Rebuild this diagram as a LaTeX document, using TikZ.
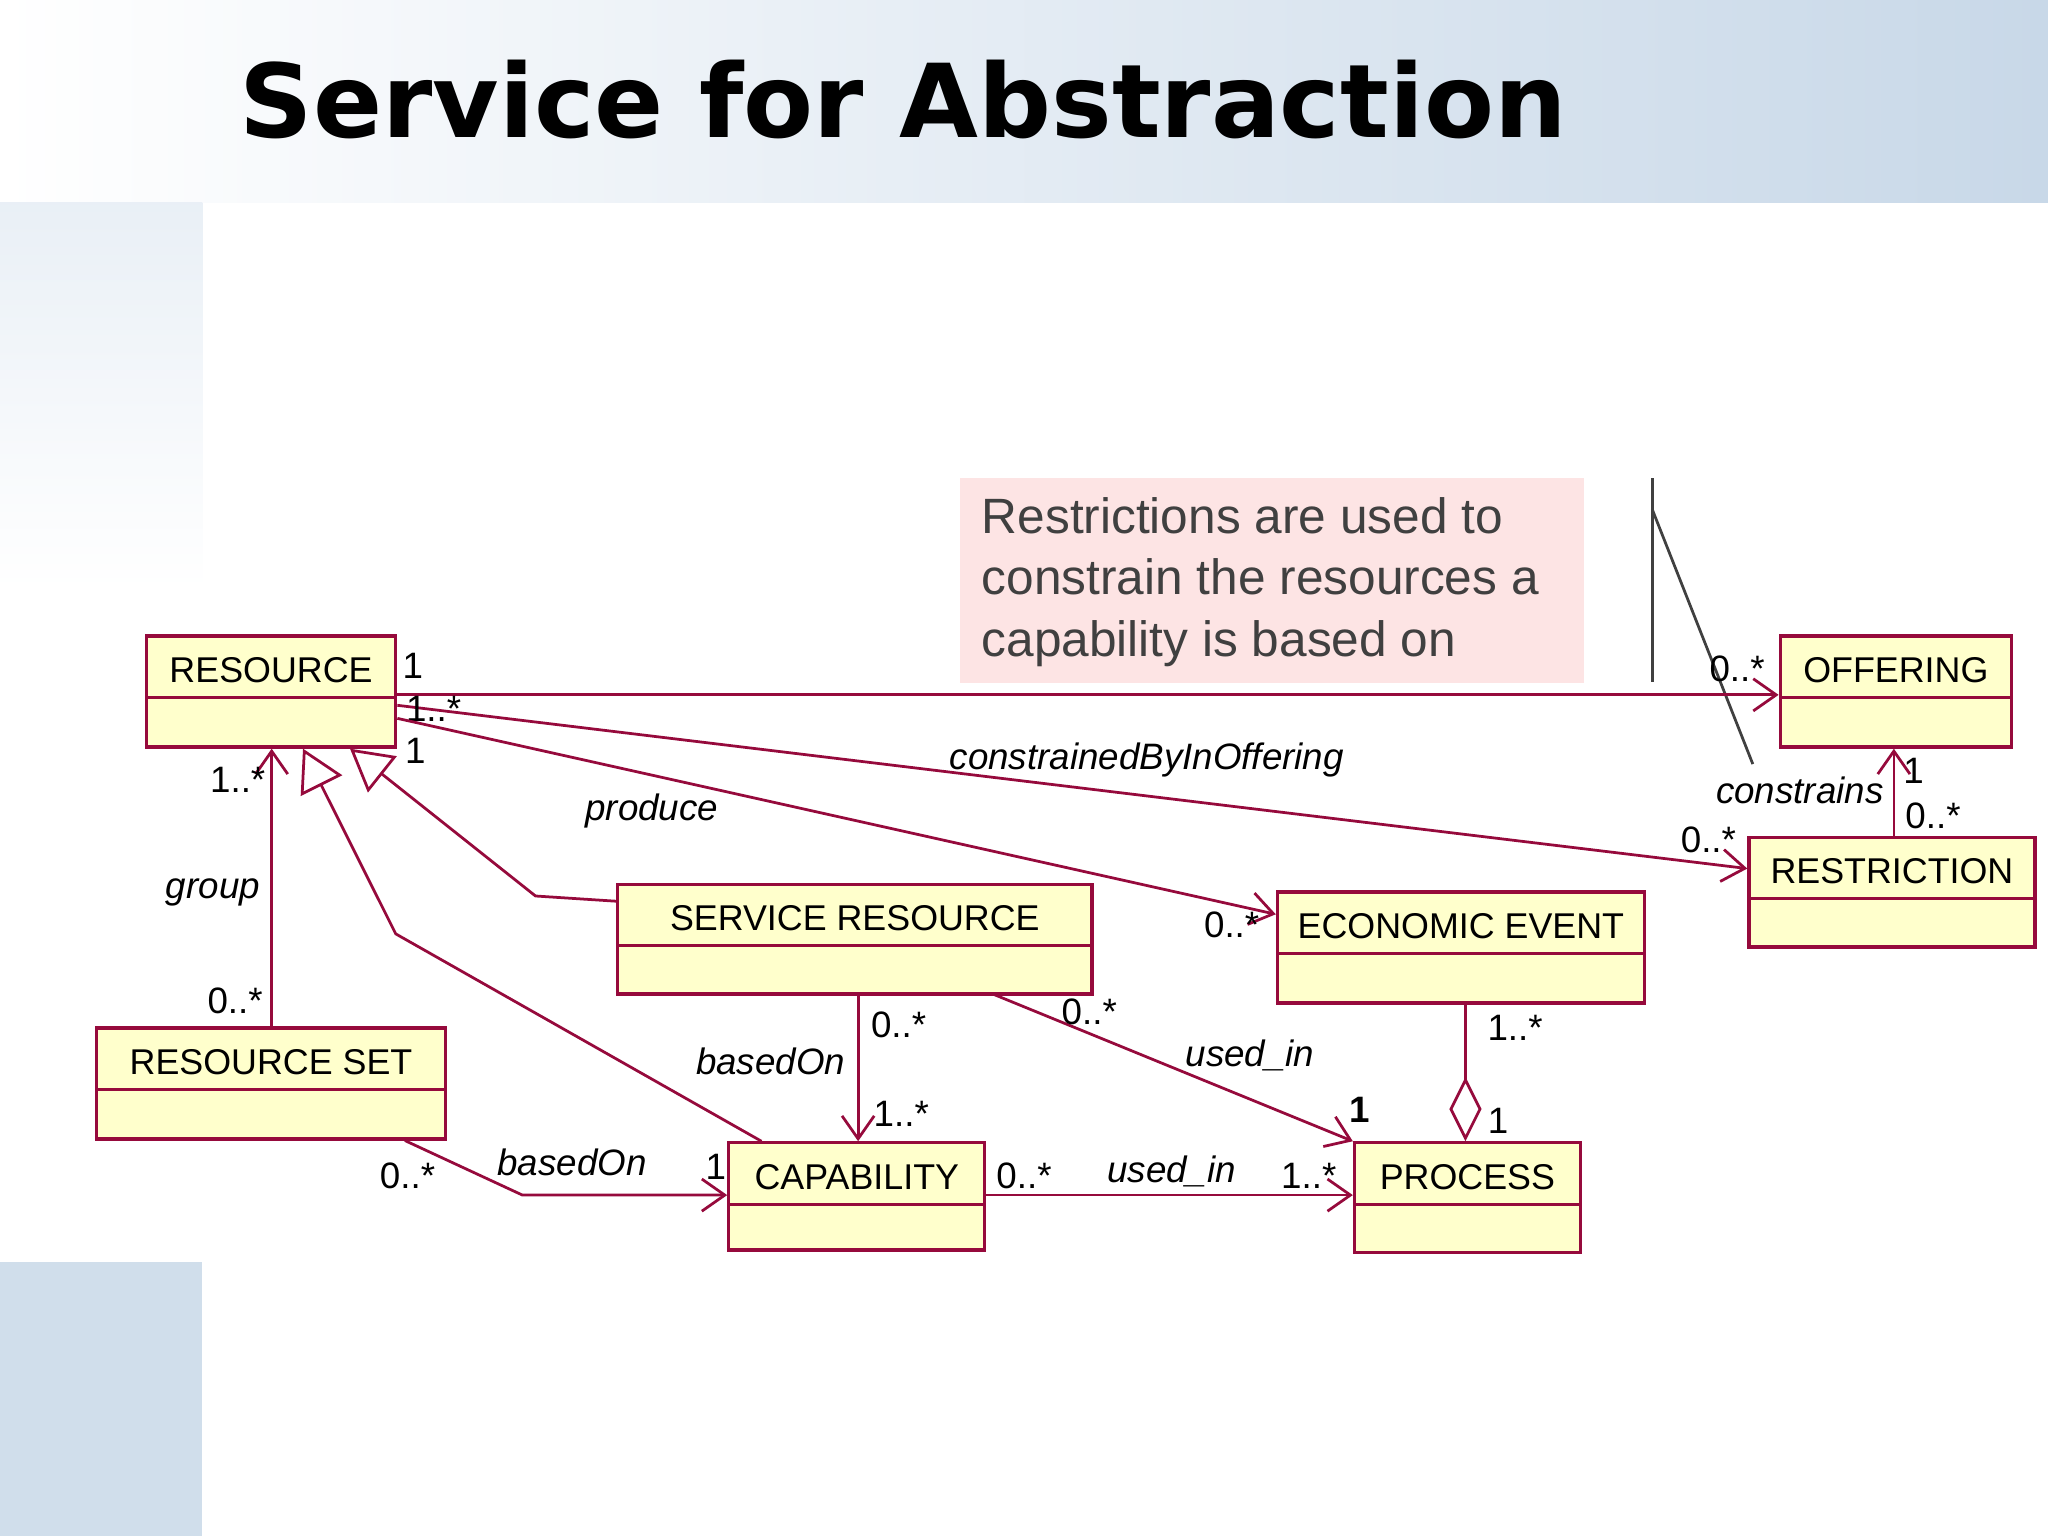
\documentclass[tikz,border=0pt]{standalone}
\usepackage{fontspec}
\setmainfont{Liberation Sans}
\newfontfamily\titlefont{DejaVu Sans}
\usetikzlibrary{arrows.meta,calc}
\definecolor{umlred}{RGB}{150,10,60}
\definecolor{umlfill}{RGB}{255,255,204}
\definecolor{notepink}{RGB}{253,228,228}
\definecolor{bandblue}{RGB}{200,216,232}
\begin{document}
\begin{tikzpicture}[x=0.01cm,y=-0.01cm,
  umlbox/.style={draw=umlred,fill=umlfill,line width=0.7pt,inner sep=0pt},
  conn/.style={draw=umlred,line width=0.6pt},
  opn/.style={-{Straight Barb[length=5pt,width=7pt]}},
  gen/.style={-{Triangle[open,length=9pt,width=10pt,fill=white]}},
  agg/.style={-{Diamond[open,length=14pt,width=7pt]}},
  lbl/.style={font=\fontsize{8}{10}\selectfont,inner sep=1pt},
  ilbl/.style={font=\fontsize{8}{10}\selectfont\itshape,inner sep=1pt}]
\useasboundingbox (0,0) rectangle (1568,1176);
\fill[white] (0,0) rectangle (1568,1176);
\shade[left color=white,right color=bandblue] (0,0) rectangle (1568,155);
\shade[top color=white!60!bandblue,bottom color=white] (0,155) rectangle (155,452);
\fill[bandblue!85] (0,966) rectangle (155,1176);
\node[anchor=base west,font=\titlefont\fontsize{22.2}{28}\selectfont\bfseries,inner sep=0] (title) at (183,105) {Service for Abstraction};
% note
\fill[notepink] (735,366) rectangle (1213,523);
\node[anchor=north west,align=left,text=black!75,font=\fontsize{10.8}{13.4}\selectfont,inner sep=0] (note) at (751,380) {Restrictions are used to\\constrain the resources a\\capability is based on};
\draw[black!75,line width=0.6pt] (1265,366) -- (1265,522);
\draw[black!75,line width=0.6pt] (1265,390) -- (1342,585);
% boxes
\newcommand{\umlclass}[6]{%
  \node[umlbox,minimum width={(#4-#2)*0.01cm},minimum height={(#5-#3)*0.01cm}] (#1) at ({(#2+#4)/2},{(#3+#5)/2}) {};
  \draw[umlred,line width=0.7pt] (#2,{#3+47}) -- (#4,{#3+47});
  \node[font=\fontsize{7.8}{10}\selectfont,inner sep=0] at ({(#2+#4)/2},{#3+26}) {#6};}
\umlclass{res}{112}{487}{303}{572}{RESOURCE}
\umlclass{off}{1363}{487}{1540}{572}{OFFERING}
\umlclass{rst}{1339}{641}{1558}{725}{RESTRICTION}
\umlclass{srv}{473}{677}{836}{761}{SERVICE RESOURCE}
\umlclass{eco}{978}{683}{1259}{768}{ECONOMIC EVENT}
\umlclass{rset}{74}{787}{341}{872}{RESOURCE SET}
\umlclass{cap}{558}{875}{754}{957}{CAPABILITY}
\umlclass{proc}{1037}{875}{1210}{959}{PROCESS}
% connectors
\draw[conn,opn] (res.east|-0,532) -- (off.west|-0,532);
\node[lbl] at (316,510) {1}; \node[lbl] at (1330,512) {0..*};
\draw[conn,opn] (res.east|-0,540) -- (rst.west|-0,665);
\node[lbl] at (332,543) {1..*}; \node[lbl] at (1308,643) {0..*};
\node[ilbl] at (878,582) {constrainedByInOffering};
\draw[conn,opn] (res.east|-0,550) -- (eco.west|-0,700);
\node[lbl] at (318,575) {1}; \node[lbl] at (943,708) {0..*};
\node[ilbl] at (499,621) {produce};
\draw[conn,opn] (rst.north-|1450,0) -- (off.south-|1450,0);
\node[lbl] at (1465,590) {1}; \node[lbl] at (1480,625) {0..*};
\node[ilbl] at (1378,605) {constrains};
\draw[conn,opn] (rset.north-|208,0) -- (res.south-|208,0);
\node[lbl] at (182,597) {1..*}; \node[lbl] at (180,766) {0..*};
\node[ilbl] at (163,683) {group};
\draw[conn,gen] (srv.west|-0,690) -- (410,686) -- (res.south-|268,0);
\draw[conn,gen] (cap.north-|583,0) -- (303,715) -- (res.south-|232,0);
\draw[conn,opn] (srv.south-|657,0) -- (cap.north-|657,0);
\node[lbl] at (688,785) {0..*}; \node[lbl] at (690,853) {1..*};
\node[ilbl] at (590,813) {basedOn};
\draw[conn,opn] (760,761) -- (proc.north west);
\node[lbl] at (834,775) {0..*}; \node[ilbl] at (957,808) {used\_in};
\node[lbl,font=\fontsize{8}{10}\selectfont\bfseries] at (1041,850) {1};
\draw[conn,opn] (rset.south-|310,0) -- (400,915) -- (cap.west|-0,915);
\node[lbl] at (312,900) {0..*}; \node[lbl] at (548,893) {1};
\node[ilbl] at (438,890) {basedOn};
\draw[conn,opn] (cap.east|-0,915) -- (proc.west|-0,915);
\node[lbl] at (784,900) {0..*}; \node[lbl] at (1002,900) {1..*};
\node[ilbl] at (897,897) {used\_in};
\draw[conn,agg] (eco.south-|1122,0) -- (proc.north-|1122,0);
\node[lbl] at (1160,787) {1..*}; \node[lbl] at (1147,858) {1};
\end{tikzpicture}
\end{document}
